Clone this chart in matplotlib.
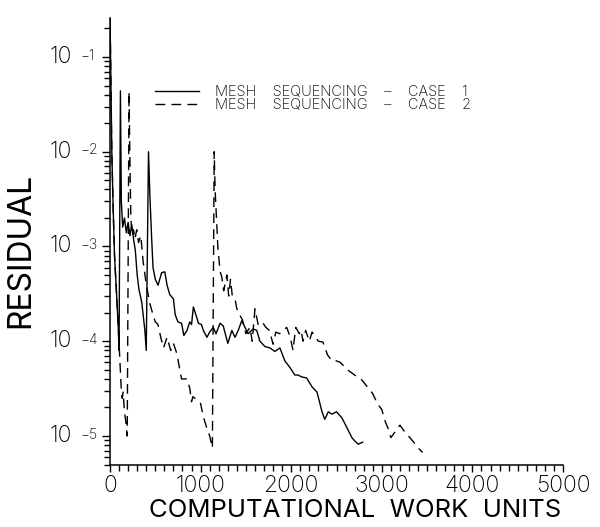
import matplotlib
matplotlib.use("Agg")
import matplotlib.pyplot as plt
from matplotlib import font_manager as fm
from matplotlib.ticker import MultipleLocator, LogLocator, NullFormatter

# --- data ---
case1_x = [0, 20, 35, 50, 70, 90, 100, 115, 125, 140, 160, 180, 200, 220, 240,
           260, 280, 300, 320, 350, 385, 400, 425, 440, 460, 475, 500, 530, 570,
           605, 630, 660, 700, 720, 750, 790, 815, 850, 880, 900, 920, 960, 975,
           1010, 1030, 1070, 1100, 1140, 1170, 1215, 1250, 1300, 1345, 1380, 1415,
           1455, 1490, 1525, 1580, 1620, 1655, 1710, 1765, 1820, 1875, 1930, 1985,
           2040, 2075, 2115, 2170, 2230, 2285, 2340, 2370, 2410, 2450, 2500, 2560,
           2610, 2670, 2705, 2740, 2790]
case1_y = [0.3, 1e-2, 2.5e-3, 8e-4, 3.5e-4, 1.5e-4, 8e-5, 0.044, 3e-3, 1.6e-3,
           2e-3, 1.4e-3, 1.8e-3, 1.3e-3, 1.7e-3, 1.2e-3, 9e-4, 5e-4, 3.5e-4,
           2.6e-4, 1.3e-4, 8e-5, 1e-2, 3.5e-3, 1.2e-3, 6e-4, 4.5e-4, 3.9e-4,
           5.3e-4, 5.4e-4, 3.9e-4, 3.1e-4, 2.8e-4, 1.9e-4, 1.6e-4, 1.55e-4,
           1.15e-4, 1.3e-4, 1.6e-4, 1.5e-4, 2.3e-4, 1.75e-4, 1.55e-4, 1.5e-4,
           1.3e-4, 1.1e-4, 1.25e-4, 1.4e-4, 1.2e-4, 1.55e-4, 1.45e-4, 9.5e-5,
           1.3e-4, 1.1e-4, 1.3e-4, 1.65e-4, 1.4e-4, 1.2e-4, 1.35e-4, 1.3e-4,
           1e-4, 8.8e-5, 8.5e-5, 7.8e-5, 8.5e-5, 6.2e-5, 5.3e-5, 4.4e-5, 4.4e-5,
           4.2e-5, 4.1e-5, 3.3e-5, 2.9e-5, 1.8e-5, 1.5e-5, 1.8e-5, 1.7e-5,
           1.8e-5, 1.55e-5, 1.25e-5, 9.6e-6, 8.8e-6, 8.2e-6, 8.6e-6]

case2_x = [0, 20, 35, 50, 70, 90, 110, 125, 135, 145, 160, 175, 190, 210, 220,
           230, 245, 260, 275, 295, 315, 340, 365, 400, 440, 475, 500, 530, 560,
           590, 630, 670, 700, 740, 770, 790, 850, 880, 900, 915, 960, 1000, 1030,
           1070, 1100, 1130, 1150, 1160, 1175, 1190, 1215, 1235, 1255, 1290, 1310,
           1330, 1350, 1380, 1400, 1430, 1460, 1500, 1545, 1570, 1600, 1635, 1680,
           1720, 1760, 1800, 1830, 1870, 1950, 1990, 2020, 2050, 2090, 2110, 2130,
           2160, 2200, 2230, 2300, 2350, 2400, 2450, 2500, 2540, 2620, 2700, 2780,
           2840, 2900, 2950, 3000, 3040, 3070, 3100, 3200, 3255, 3310, 3370, 3400,
           3450]
case2_y = [0.3, 1e-2, 2.5e-3, 8e-4, 3.5e-4, 1.5e-4, 6e-5, 3e-5, 2.5e-5, 2.9e-5,
           1.8e-5, 1.4e-5, 1e-5, 0.043, 8e-3, 2e-3, 1.3e-3, 1.5e-3, 1.2e-3,
           1.5e-3, 1.1e-3, 1.3e-3, 7e-4, 4e-4, 2.5e-4, 1.9e-4, 1.6e-4, 1.5e-4,
           1.1e-4, 8.5e-5, 1.1e-4, 8e-5, 9.5e-5, 7.3e-5, 5e-5, 4e-5, 4e-5, 3.2e-5,
           2.3e-5, 2.6e-5, 2.4e-5, 2.2e-5, 1.6e-5, 1.2e-5, 1e-5, 7.5e-6, 1e-2,
           4e-3, 2e-3, 1e-3, 5.5e-4, 4.7e-4, 3.4e-4, 5e-4, 3e-4, 4.5e-4, 3e-4,
           2.8e-4, 2.2e-4, 1.9e-4, 1.7e-4, 1.2e-4, 1.4e-4, 1e-4, 2.2e-4, 1.5e-4,
           1.6e-4, 1.4e-4, 1.3e-4, 9.3e-5, 1.25e-4, 1.2e-4, 1.4e-4, 1.1e-4, 8e-5,
           1.4e-4, 1.2e-4, 1.3e-4, 1e-4, 1.3e-4, 1e-4, 1.25e-4, 1e-4, 9.8e-5,
           7.2e-5, 6.2e-5, 6.2e-5, 6e-5, 5e-5, 4.4e-5, 3.9e-5, 3.3e-5, 2.8e-5,
           2.2e-5, 1.9e-5, 1.4e-5, 1.2e-5, 9.6e-6, 1.3e-5, 1.1e-5, 9.6e-6, 8.2e-6,
           7.5e-6, 6.7e-6]

labels = ["MESH    SEQUENCING    \u2013    CASE    1",
          "MESH    SEQUENCING    \u2013    CASE    2"]
decades = [-1, -2, -3, -4, -5]
xticks = [0, 1000, 2000, 3000, 4000, 5000]


def light_font():
    for f in fm.fontManager.ttflist:
        if f.name in ("Lato", "Roboto", "Open Sans", "Inter", "Noto Sans", "DejaVu Sans") \
                and isinstance(f.weight, int) and f.weight <= 300:
            return f.name
    return "DejaVu Sans"


plt.rcParams["font.family"] = [light_font(), "DejaVu Sans"]
plt.rcParams["font.weight"] = "light"

fig = plt.figure(figsize=(6.0, 5.27), dpi=100)
ax = fig.add_axes([110 / 600, 62 / 527, 453 / 600, 447 / 527])

ax.plot(case1_x, case1_y, color="black", lw=1.0, label=labels[0])
ax.plot(case2_x, case2_y, color="black", lw=1.0, dashes=(7, 4.5), label=labels[1])

ax.set_yscale("log")
ax.set_xlim(0, 5000)
ax.set_ylim(4.94e-6, 0.258)

for s in ("top", "right"):
    ax.spines[s].set_visible(False)
for s in ("left", "bottom"):
    ax.spines[s].set_linewidth(1.1)

ax.set_xticks(xticks)
ax.set_xticklabels([str(v) for v in xticks])
ax.xaxis.set_minor_locator(MultipleLocator(100))
ax.tick_params(axis="x", which="major", direction="out", length=5, width=1, pad=2,
               labelsize=16.5)
ax.tick_params(axis="x", which="minor", direction="out", length=4, width=1)

ax.yaxis.set_major_locator(LogLocator(base=10, numticks=10))
ax.yaxis.set_minor_locator(LogLocator(base=10, subs=range(2, 10), numticks=20))
ax.yaxis.set_major_formatter(NullFormatter())
ax.yaxis.set_minor_formatter(NullFormatter())
ax.tick_params(axis="y", which="major", direction="out", length=6, width=1)
ax.tick_params(axis="y", which="minor", direction="out", length=4, width=1)

# "10" with a small exponent, like the original plot
for k in decades:
    ax.annotate("10", xy=(0, 10.0 ** k), xycoords=("axes fraction", "data"),
                xytext=(-27.5, 0), textcoords="offset points",
                ha="right", va="center", fontsize=16.5)
    ax.annotate("\u2212%d" % (-k), xy=(0, 10.0 ** k), xycoords=("axes fraction", "data"),
                xytext=(-21.5, 6), textcoords="offset points",
                ha="left", va="top", fontsize=10)

ax.set_xlabel("COMPUTATIONAL  WORK  UNITS", fontsize=18.5)
ax.xaxis.set_label_coords(0.541, -0.075)
ax.set_ylabel("RESIDUAL", fontsize=23)
ax.yaxis.set_label_coords(-0.163, 0.481)

ax.legend(loc="upper left", bbox_to_anchor=(0.099, 0.85), frameon=False,
          fontsize=10.5, handlelength=3.0, handletextpad=1.1, labelspacing=-0.06,
          borderpad=0, borderaxespad=0)

fig.savefig("out.png", dpi=100)
